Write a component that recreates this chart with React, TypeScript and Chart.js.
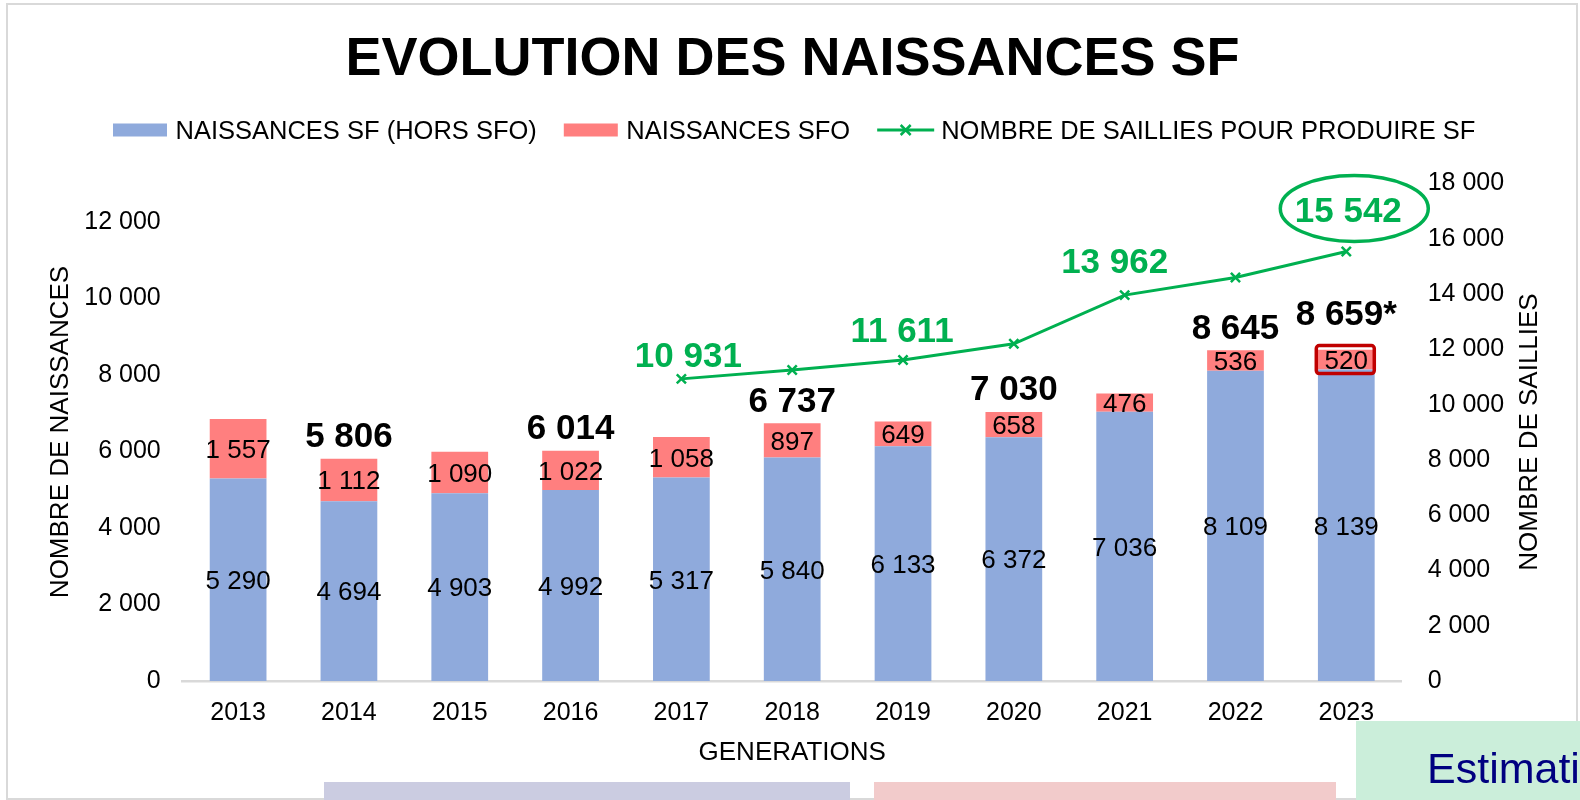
import React, { useEffect, useRef } from "react";
import { Chart, registerables } from "chart.js";

Chart.register(...registerables);

const FONT = "'Liberation Sans', Arial, Helvetica, sans-serif";

// ---- data ----
const years = ["2013", "2014", "2015", "2016", "2017", "2018", "2019", "2020", "2021", "2022", "2023"];
const birthsSfExclSfo = [5290, 4694, 4903, 4992, 5317, 5840, 6133, 6372, 7036, 8109, 8139];
const birthsSfo = [1557, 1112, 1090, 1022, 1058, 897, 649, 658, 476, 536, 520];
const coverings = [null, null, null, null, 10931, 11250, 11611, 12200, 13962, 14600, 15542];
const showTotal = [false, true, false, true, false, true, false, true, false, true, true];
const totalSuffix = ["", "", "", "", "", "", "", "", "", "", "*"];
const showCoveringLabel = [false, false, false, false, true, false, true, false, true, false, true];
const leftTickValues = [0, 2000, 4000, 6000, 8000, 10000, 12000];
const rightTickValues = [0, 2000, 4000, 6000, 8000, 10000, 12000, 14000, 16000, 18000];
const leftAxisMax = 13000;
const rightAxisMax = 18000;

const title = "EVOLUTION DES NAISSANCES SF";
const seriesNames = ["NAISSANCES SF (HORS SFO)", "NAISSANCES SFO", "NOMBRE DE SAILLIES POUR PRODUIRE SF"];
const leftAxisTitle = "NOMBRE DE NAISSANCES";
const rightAxisTitle = "NOMBRE DE SAILLIES";
const xAxisTitle = "GENERATIONS";
const footnote = "Estimation";

const BLUE = "#8FAADC";
const RED = "#FF7F7F";
const GREEN = "#00B050";

const fmt = (v: number) => String(Math.round(v)).replace(/\B(?=(\d{3})+(?!\d))/g, " ");

function capText(ctx: CanvasRenderingContext2D, text: string, x: number, cy: number, size: number, weight: string, color: string, align: CanvasTextAlign) {
  ctx.font = `${weight} ${size}px ${FONT}`;
  ctx.fillStyle = color;
  ctx.textAlign = align;
  ctx.textBaseline = "alphabetic";
  ctx.fillText(text, x, cy + size * 0.716 / 2);
}

const decor = {
  id: "decor",
  beforeDraw(chart: any) {
    const ctx = chart.ctx as CanvasRenderingContext2D;
    ctx.save();
    ctx.fillStyle = "#ffffff";
    ctx.fillRect(0, 0, chart.width, chart.height);
    ctx.restore();
  },
  afterDatasetsDraw(chart: any) {
    const ctx = chart.ctx as CanvasRenderingContext2D;
    const mBlue = chart.getDatasetMeta(0);
    const mRed = chart.getDatasetMeta(1);
    const mLine = chart.getDatasetMeta(2);
    ctx.save();
    // segment labels
    years.forEach((_, i) => {
      const b = mBlue.data[i];
      const r = mRed.data[i];
      capText(ctx, fmt(birthsSfExclSfo[i]), b.x, (b.y + b.base) / 2, 26, "normal", "#000", "center");
      capText(ctx, fmt(birthsSfo[i]), r.x, (r.y + r.base) / 2, 26, "normal", "#000", "center");
      if (showTotal[i]) {
        const lift = totalSuffix[i] ? 37 : 24;
        capText(ctx, fmt(birthsSfExclSfo[i] + birthsSfo[i]) + totalSuffix[i], r.x, r.y - lift, 35, "bold", "#000", "center");
      }
    });
    // red highlight box around last SFO value
    const last = years.length - 1;
    const rl = mRed.data[last];
    const cy = (rl.y + rl.base) / 2;
    ctx.strokeStyle = "#C00000";
    ctx.lineWidth = 3.5;
    ctx.beginPath();
    (ctx as any).roundRect(rl.x - 30, cy - 14, 58, 28, 3);
    ctx.stroke();
    // line labels
    const nudges: Record<number, [number, number]> = { 4: [7, 24], 6: [-1, 31], 8: [-10, 35], 10: [2, 42] };
    years.forEach((_, i) => {
      if (!showCoveringLabel[i] || coverings[i] == null) return;
      const p = mLine.data[i];
      const [dx, dy] = nudges[i] || [0, 30];
      const lx = p.x + dx;
      const ly = p.y - dy;
      capText(ctx, fmt(coverings[i] as number), lx, ly, 35, "bold", GREEN, "center");
      if (i === last) {
        ctx.strokeStyle = GREEN;
        ctx.lineWidth = 3.5;
        ctx.beginPath();
        ctx.ellipse(lx + 6, ly - 1, 74, 33, 0, 0, Math.PI * 2);
        ctx.stroke();
      }
    });
    ctx.restore();
  },
  afterDraw(chart: any) {
    const ctx = chart.ctx as CanvasRenderingContext2D;
    const area = chart.chartArea;
    ctx.save();
    // title
    capText(ctx, title, 792.5, 56, 54, "bold", "#000", "center");
    // legend
    const LF = 25.5;
    let x = 113;
    const ly = 130;
    seriesNames.forEach((name, i) => {
      if (i < 2) {
        ctx.fillStyle = i === 0 ? BLUE : RED;
        ctx.fillRect(x, ly - 6.5, 54, 13);
        x += 54 + 8.5;
      } else {
        ctx.strokeStyle = GREEN;
        ctx.lineWidth = 3;
        ctx.beginPath();
        ctx.moveTo(x, ly);
        ctx.lineTo(x + 57, ly);
        ctx.stroke();
        const mx = x + 28.5;
        ctx.lineWidth = 2.5;
        ctx.beginPath();
        ctx.moveTo(mx - 5, ly - 5);
        ctx.lineTo(mx + 5, ly + 5);
        ctx.moveTo(mx + 5, ly - 5);
        ctx.lineTo(mx - 5, ly + 5);
        ctx.stroke();
        x += 57 + 7;
      }
      capText(ctx, name, x, ly, LF, "normal", "#000", "left");
      ctx.font = `normal ${LF}px ${FONT}`;
      x += ctx.measureText(name).width + 27;
    });
    // axis titles
    ctx.save();
    ctx.translate(59, 432);
    ctx.rotate(-Math.PI / 2);
    capText(ctx, leftAxisTitle, 0, 0, 26, "normal", "#000", "center");
    ctx.restore();
    ctx.save();
    ctx.translate(1528, 432);
    ctx.rotate(-Math.PI / 2);
    capText(ctx, rightAxisTitle, 0, 0, 26, "normal", "#000", "center");
    ctx.restore();
    capText(ctx, xAxisTitle, (area.left + area.right) / 2, 751, 26, "normal", "#000", "center");
    // outer chart border
    ctx.strokeStyle = "#D9D9D9";
    ctx.lineWidth = 2;
    ctx.strokeRect(7, 4, 1570, 795);
    // slide overlays at the bottom
    ctx.fillStyle = "#CBCCE1";
    ctx.fillRect(324, 782, 526, 18);
    ctx.fillStyle = "#F2CBCB";
    ctx.fillRect(874, 782, 462, 18);
    ctx.fillStyle = "#CBEEDA";
    ctx.fillRect(1356, 721, 224, 79);
    ctx.font = `normal 43px ${FONT}`;
    ctx.fillStyle = "#000080";
    ctx.textAlign = "left";
    ctx.textBaseline = "alphabetic";
    ctx.fillText(footnote, 1427, 783);
    ctx.restore();
  },
};

export default function App() {
  const ref = useRef<HTMLCanvasElement>(null);
  useEffect(() => {
    const tickFont = { size: 25, family: FONT };
    const chart = new Chart(ref.current as HTMLCanvasElement, {
      type: "bar",
      data: {
        labels: years,
        datasets: [
          { type: "bar", label: seriesNames[0], data: birthsSfExclSfo, backgroundColor: BLUE, yAxisID: "y", barPercentage: 0.512, categoryPercentage: 1, order: 1 },
          { type: "bar", label: seriesNames[1], data: birthsSfo, backgroundColor: RED, yAxisID: "y", barPercentage: 0.512, categoryPercentage: 1, order: 1 },
          {
            type: "line", label: seriesNames[2], data: coverings as any, yAxisID: "y1", borderColor: GREEN, borderWidth: 3,
            pointStyle: "crossRot", pointRadius: 6.5, pointBorderWidth: 2.5, pointBorderColor: GREEN, pointBackgroundColor: GREEN,
            tension: 0, order: 0,
          } as any,
        ],
      },
      options: {
        responsive: false,
        animation: false,
        devicePixelRatio: 1,
        layout: { padding: { top: 183.5, left: 0, right: 0, bottom: 0 } },
        plugins: { legend: { display: false }, title: { display: false }, tooltip: { enabled: false } },
        scales: {
          x: {
            stacked: true,
            grid: { display: false, drawTicks: false },
            border: { display: true, color: "#D9D9D9", width: 2.5 },
            ticks: { color: "#000", font: tickFont, padding: 17, maxRotation: 0, autoSkip: false },
            afterFit: (s: any) => { s.height = 119; },
          },
          y: {
            stacked: true,
            position: "left",
            min: 0,
            max: leftAxisMax,
            grid: { display: false, drawTicks: false },
            border: { display: false },
            ticks: { padding: 22, color: "#000", font: tickFont, callback: (v: any) => fmt(Number(v)) },
            afterBuildTicks: (s: any) => { s.ticks = leftTickValues.map((v) => ({ value: v })); },
            afterFit: (s: any) => { s.width = 182.7; },
          },
          y1: {
            position: "right",
            min: 0,
            max: rightAxisMax,
            grid: { display: false, drawTicks: false },
            border: { display: false },
            ticks: { padding: 26, color: "#000", font: tickFont, callback: (v: any) => fmt(Number(v)) },
            afterBuildTicks: (s: any) => { s.ticks = rightTickValues.map((v) => ({ value: v })); },
            afterFit: (s: any) => { s.width = 1580 - 1401.7; },
          },
        },
      } as any,
      plugins: [decor as any],
    });
    return () => chart.destroy();
  }, []);
  return (
    <div style={{ position: "fixed", left: 0, top: 0, width: 1580, height: 800, background: "#fff" }}>
      <canvas ref={ref} width={1580} height={800} style={{ display: "block", width: 1580, height: 800 }} />
    </div>
  );
}
